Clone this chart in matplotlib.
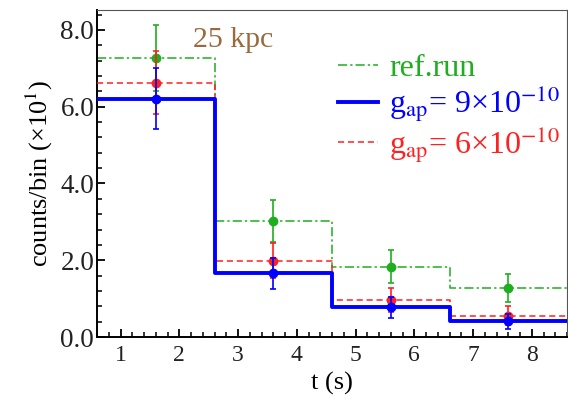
import numpy as np
import matplotlib
matplotlib.use("Agg")
import matplotlib.pyplot as plt
from matplotlib.ticker import MultipleLocator, FormatStrFormatter

# data (counts/bin in units of 10)
edges = [0.6, 2.6, 4.6, 6.6, 8.6]
centers = [1.6, 3.6, 5.6, 7.6]
ref_run = [7.27, 3.03, 1.83, 1.27]
g9 = [6.21, 1.66, 0.77, 0.41]
g6 = [6.63, 1.99, 0.96, 0.56]
ref_err = [0.85, 0.55, 0.43, 0.36]
g9_err = [0.79, 0.41, 0.28, 0.20]
g6_err = [0.81, 0.45, 0.31, 0.24]

plt.rcParams['font.family'] = ['Liberation Serif', 'DejaVu Serif']
plt.rcParams['mathtext.fontset'] = 'stix'

fig = plt.figure(figsize=(5.68, 4.11), dpi=100)
ax = fig.add_axes([97/568, 1-337/411, (567-97)/568, (337-10)/411])

green = '#1fae1f'
blue = '#0000ff'
red = '#ff2020'

def steps(vals):
    return list(vals) + [vals[-1]]

ax.step(edges, steps(ref_run), where='post', color=green, lw=1.1,
        dashes=[6, 2, 1.5, 2], label='ref.run', zorder=2)
ax.step(edges, steps(g6), where='post', color=red, lw=1.1,
        dashes=[4, 2.5], label=r'g$_{\rm ap}$= 6×10$^{-10}$', zorder=3)
ax.step(edges, steps(g9), where='post', color=blue, lw=2.8,
        label=r'g$_{\rm ap}$= 9×10$^{-10}$', zorder=4)

ax.errorbar(centers, ref_run, yerr=ref_err, fmt='o', color=green, ms=6,
            capsize=2.5, elinewidth=1.2, capthick=1.2, zorder=5)
ax.errorbar(centers, g6, yerr=g6_err, fmt='o', color=red, ms=6,
            capsize=2.5, elinewidth=1.2, capthick=1.2, zorder=6)
ax.errorbar(centers, g9, yerr=g9_err, fmt='o', color=blue, ms=6,
            capsize=2.5, elinewidth=1.2, capthick=1.2, zorder=7)

ax.set_xlim(0.6, 8.6)
ax.set_ylim(0, 8.52)
ax.xaxis.set_major_locator(MultipleLocator(1))
ax.xaxis.set_minor_locator(MultipleLocator(0.2))
ax.yaxis.set_major_locator(MultipleLocator(2))
ax.yaxis.set_minor_locator(MultipleLocator(0.4))
ax.yaxis.set_major_formatter(FormatStrFormatter('%.1f'))
ax.tick_params(which='major', direction='in', length=6, width=1.3,
               top=False, right=False)
ax.tick_params(which='minor', direction='in', length=3.5, width=1.1,
               top=False, right=False)
ax.tick_params(axis='y', labelsize=19.5, pad=2)
ax.tick_params(axis='x', labelsize=17, pad=6)
for lab in ax.get_yticklabels() + ax.get_xticklabels():
    lab.set_color('#222222')
ax.spines['left'].set_linewidth(1.4)
ax.spines['bottom'].set_linewidth(1.4)
ax.spines['top'].set_color('#555555')
ax.spines['right'].set_color('#555555')

ax.set_xlabel('t (s)', fontsize=19, labelpad=4)
ax.set_ylabel('counts/bin (×10$^1$)', fontsize=19, labelpad=4)

ax.text(193/568, 1-47/411, '25 kpc', transform=fig.transFigure,
        fontsize=21.5, color='#9a6a3e', ha='left', va='baseline')

handles, labels = ax.get_legend_handles_labels()
order = [0, 2, 1]
leg = ax.legend([handles[i] for i in order], [labels[i] for i in order],
                loc='upper left', bbox_to_anchor=((338-97)/470, 1-44/327),
                frameon=False, fontsize=23, handlelength=1.25,
                handletextpad=0.35, labelspacing=0.0, borderpad=0,
                borderaxespad=0)
for t, c in zip(leg.get_texts(), [green, blue, red]):
    t.set_color(c)

fig.savefig('out.png', dpi=100)
